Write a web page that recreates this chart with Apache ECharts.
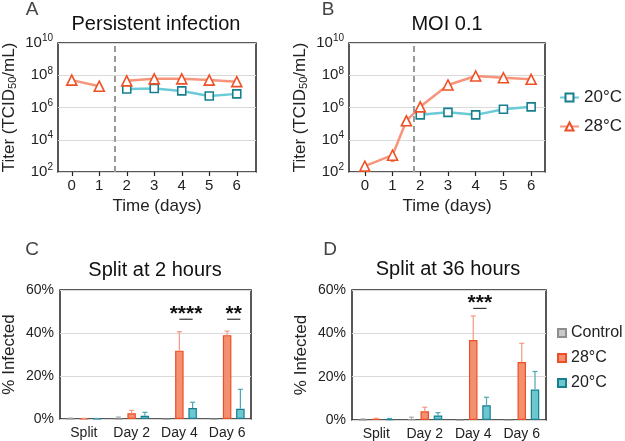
<!DOCTYPE html>
<html><head><meta charset="utf-8">
<script src="https://cdn.jsdelivr.net/npm/echarts@6/dist/echarts.min.js"></script>
<style>html,body{margin:0;padding:0;background:#fff}#c{width:625px;height:441px}</style>
</head><body><div id="c"></div>
<script>
// ---------- data ----------
const daysA = [0, 1, 2, 3, 4, 5, 6];
const persist28 = [5e7, 2.1e7, 4.5e7, 6e7, 6e7, 5e7, 4e7];
const persist20 = [null, null, 1.4e7, 1.5e7, 1.07e7, 5.2e6, 7e6];
const splitDayA = 1.55;

const daysB28 = [0, 1, 1.5, 2, 3, 4, 5, 6];
const moi28 = [2.3e2, 1.1e3, 1.5e5, 1.1e6, 2.5e7, 9e7, 7e7, 5.6e7];
const daysB20 = [2, 3, 4, 5, 6];
const moi20 = [3.5e5, 5e5, 3.5e5, 7.8e5, 1.1e6];
const moi28Err = [[1, 4.4e2, 1.1e3]];
const moi20Err = [[5, 4.6e5, 7.8e5], [6, 7.5e5, 1.1e6]];
const splitDayB = 1.76;

const barCats = ['Split', 'Day 2', 'Day 4', 'Day 6'];
const cCtrl = [0.15, 0.2, 0, 0],  cCtrlErr = [0.3, 0.7, 0, 0];
const c28 = [0.2, 2.7, 31.8, 39.0], c28Err = [0.1, 1.3, 8.8, 1.9];
const c20 = [0.15, 1.5, 5.1, 4.8],  c20Err = [0.1, 1.6, 2.7, 9.0];
const dCtrl = [0.2, 0.4, 0, 0],   dCtrlErr = [0.3, 0.9, 0, 0];
const d28 = [0.5, 4.0, 36.9, 26.8], d28Err = [0.3, 1.9, 11.1, 8.6];
const d20 = [0.4, 2.1, 6.8, 14.1],  d20Err = [0.3, 1.3, 3.7, 8.3];
const sigC = [[2, 46.4, '****'], [3, 46.4, '**']];
const sigD = [[2, 51.5, '***']];

// ---------- style ----------
const FONT = '"Liberation Sans", Arial, Helvetica, sans-serif';
const INK = '#222';
const OR_LINE = '#F6957B', OR_EDGE = '#EF4F24', OR_FILL = '#F3906F', OR_ERR = '#F39A80';
const TE_LINE = '#6ACBD6', TE_EDGE = '#177F8E', TE_FILL = '#6CC7D1', TE_ERR = '#4DA6B3';
const GR_FILL = '#C9C9C9', GR_EDGE = '#8E8E8E', GR_ERR = '#AAAAAA';
const BAR_W = 8.5, BAR_GAP = 0.56;
const STEP = BAR_W * (1 + BAR_GAP);

const chart = echarts.init(document.getElementById('c'), null, {renderer: 'canvas'});

function gridBox(left, top, width, height) {
  return {left, top, width, height, show: true, borderColor: '#222', borderWidth: 1.5, backgroundColor: 'transparent'};
}
const supRich = {
  b: {fontSize: 15, color: INK, fontFamily: FONT},
  s: {fontSize: 10, color: INK, fontFamily: FONT, padding: [0, 0, 9, 0]}
};
function logY(gridIndex) {
  return {
    type: 'log', gridIndex, logBase: 10, min: 1e2, max: 1e10, interval: 2,
    axisLine: {show: false}, axisTick: {show: false},
    splitLine: {show: true, lineStyle: {color: '#DADADA', width: 1}},
    axisLabel: {
      margin: 5, showMinLabel: true, showMaxLabel: true,
      formatter: v => '{b|10}{s|' + Math.round(Math.log10(v)) + '}',
      rich: supRich
    },
    name: '{a|Titer (TCID}{sub|50}{a|/mL)}', nameLocation: 'middle', nameGap: 40, nameRotate: 90,
    nameTextStyle: {rich: {
      a: {fontSize: 17, color: INK, fontFamily: FONT},
      sub: {fontSize: 11, color: INK, fontFamily: FONT, padding: [6, 0, 0, 0]}
    }}
  };
}
function timeX(gridIndex, min, max) {
  return {
    type: 'value', gridIndex, min, max,
    axisLine: {show: false},
    axisTick: {show: true, customValues: daysA, length: 4, lineStyle: {color: INK, width: 1.2}},
    axisLabel: {customValues: daysA, fontSize: 15, color: INK, fontFamily: FONT, margin: 6},
    splitLine: {show: false},
    name: 'Time (days)', nameLocation: 'middle', nameGap: 26,
    nameTextStyle: {fontSize: 17, color: INK, fontFamily: FONT}
  };
}
function catX(gridIndex) {
  return {
    type: 'category', gridIndex, data: barCats,
    axisLine: {show: false}, axisTick: {show: false},
    axisLabel: {fontSize: 14, color: INK, fontFamily: FONT, margin: 7},
    splitLine: {show: false}
  };
}
function pctY(gridIndex) {
  return {
    type: 'value', gridIndex, min: 0, max: 60, interval: 20,
    axisLine: {show: false}, axisTick: {show: false},
    splitLine: {show: true, lineStyle: {color: '#DADADA', width: 1}},
    axisLabel: {formatter: '{value}%', fontSize: 14, color: INK, fontFamily: FONT, margin: 6},
    name: '% Infected', nameLocation: 'middle', nameGap: 42, nameRotate: 90,
    nameTextStyle: {fontSize: 17, color: INK, fontFamily: FONT}
  };
}
function lineSeries(name, xs, ys, ax, isOrange, extra) {
  return Object.assign({
    type: 'line', name, xAxisIndex: ax, yAxisIndex: ax,
    data: xs.map((x, i) => [x, ys[i]]).filter(d => d[1] != null),
    symbol: isOrange ? 'triangle' : 'rect', symbolSize: isOrange ? 10 : 8,
    lineStyle: {color: isOrange ? OR_LINE : TE_LINE, width: 2.5},
    itemStyle: {color: '#fff', borderColor: isOrange ? OR_EDGE : TE_EDGE, borderWidth: 1.6},
    z: 4, animation: false
  }, extra || {});
}
function dashLine(x) {
  return {symbol: 'none', silent: true, label: {show: false},
    lineStyle: {color: '#9A9A9A', type: [6, 4], width: 2},
    data: [{xAxis: x}]};
}
function rangeErr(ax, arr, color) {
  return {
    type: 'custom', xAxisIndex: ax, yAxisIndex: ax, data: arr, z: 3, silent: true, animation: false,
    renderItem(params, api) {
      const p0 = api.coord([api.value(0), api.value(1)]);
      const p1 = api.coord([api.value(0), api.value(2)]);
      return {type: 'group', children: [
        {type: 'line', shape: {x1: p0[0], y1: p0[1], x2: p1[0], y2: p1[1]}, style: {stroke: color, lineWidth: 1.2}},
        {type: 'line', shape: {x1: p0[0] - 2, y1: p0[1], x2: p0[0] + 2, y2: p0[1]}, style: {stroke: color, lineWidth: 1.2}}
      ]};
    }
  };
}
function barSeries(name, ax, vals, fill, edge) {
  return {
    type: 'bar', name, xAxisIndex: ax, yAxisIndex: ax, data: vals,
    barWidth: BAR_W, barGap: (BAR_GAP * 100) + '%',
    itemStyle: {color: fill, borderColor: edge, borderWidth: 1.2},
    z: 2, animation: false
  };
}
function barErr(ax, vals, errs, offset, color) {
  return {
    type: 'custom', xAxisIndex: ax, yAxisIndex: ax, z: 3, silent: true, animation: false,
    data: vals.map((v, i) => [i, v, errs[i]]),
    renderItem(params, api) {
      const e = api.value(2);
      if (!e) return null;
      const p0 = api.coord([api.value(0), api.value(1)]);
      const p1 = api.coord([api.value(0), api.value(1) + e]);
      const x = p0[0] + offset;
      return {type: 'group', children: [
        {type: 'line', shape: {x1: x, y1: p0[1], x2: x, y2: p1[1]}, style: {stroke: color, lineWidth: 1.2}},
        {type: 'line', shape: {x1: x - 2.5, y1: p1[1], x2: x + 2.5, y2: p1[1]}, style: {stroke: color, lineWidth: 1.2}}
      ]};
    }
  };
}
function sigSeries(ax, arr) {
  return {
    type: 'custom', xAxisIndex: ax, yAxisIndex: ax, z: 5, silent: true, animation: false, data: arr,
    renderItem(params, api) {
      const p = api.coord([api.value(0), api.value(1)]);
      const x1 = p[0], x2 = p[0] + STEP, xm = (x1 + x2) / 2;
      return {type: 'group', children: [
        {type: 'line', shape: {x1: x1, y1: p[1], x2: x2, y2: p[1]}, style: {stroke: '#333', lineWidth: 1.2}},
        {type: 'text', x: xm, y: p[1] - 5, style: {text: arr[params.dataIndex][2], fontSize: 21, fontWeight: 'bold',
          fontFamily: FONT, fill: '#111', align: 'center', verticalAlign: 'middle'}}
      ]};
    }
  };
}
function txt(text, x, y, size, color) {
  return {type: 'text', x, y, silent: true,
    style: {text, fontSize: size, fontFamily: FONT, fill: color || '#111', align: 'center', verticalAlign: 'middle'}};
}
const legendNames = {Control: 'Control', bar28: '28°C', bar20: '20°C'};

const option = {
  backgroundColor: '#fff',
  animation: false,
  grid: [
    gridBox(57, 43, 199, 129),
    gridBox(349, 43, 196, 129),
    gridBox(58, 290, 193, 129),
    gridBox(352, 290, 194, 130)
  ],
  xAxis: [timeX(0, -0.5, 6.7), timeX(1, -0.57, 6.5), catX(2), catX(3)],
  yAxis: [logY(0), logY(1), pctY(2), pctY(3)],
  legend: [
    {data: ['20°C', '28°C'], orient: 'vertical', left: 554, top: 84, itemGap: 12,
     itemWidth: 19, itemHeight: 10, textStyle: {fontSize: 17, color: INK, fontFamily: FONT}, selectedMode: false},
    {data: ['Control', 'bar28', 'bar20'], orient: 'vertical', left: 552, top: 320, itemGap: 9,
     itemWidth: 8, itemHeight: 8, icon: 'rect', formatter: n => legendNames[n],
     textStyle: {fontSize: 16, color: INK, fontFamily: FONT}, selectedMode: false}
  ],
  graphic: [
    txt('A', 32, 10, 19, '#444'),
    txt('B', 328, 10, 19, '#444'),
    txt('C', 32, 250, 19, '#444'),
    txt('D', 330, 250, 19, '#444'),
    txt('Persistent infection', 156, 24, 20),
    txt('MOI 0.1', 447, 24, 20),
    txt('Split at 2 hours', 155, 270, 20),
    txt('Split at 36 hours', 448, 269, 20)
  ],
  series: [
    lineSeries('20°C', daysA, persist20, 0, false),
    lineSeries('28°C', daysA.slice(0, 2), persist28.slice(0, 2), 0, true, {markLine: dashLine(splitDayA)}),
    lineSeries('28°C', daysA.slice(2), persist28.slice(2), 0, true),
    rangeErr(1, moi28Err, OR_ERR),
    rangeErr(1, moi20Err, TE_ERR),
    lineSeries('20°C', daysB20, moi20, 1, false),
    lineSeries('28°C', daysB28, moi28, 1, true, {markLine: dashLine(splitDayB)}),

    barSeries('Control', 2, cCtrl, GR_FILL, GR_EDGE),
    barSeries('bar28', 2, c28, OR_FILL, OR_EDGE),
    barSeries('bar20', 2, c20, TE_FILL, TE_EDGE),
    barErr(2, cCtrl, cCtrlErr, -STEP, GR_ERR),
    barErr(2, c28, c28Err, 0, OR_ERR),
    barErr(2, c20, c20Err, STEP, TE_ERR),
    sigSeries(2, sigC),

    barSeries('Control', 3, dCtrl, GR_FILL, GR_EDGE),
    barSeries('bar28', 3, d28, OR_FILL, OR_EDGE),
    barSeries('bar20', 3, d20, TE_FILL, TE_EDGE),
    barErr(3, dCtrl, dCtrlErr, -STEP, GR_ERR),
    barErr(3, d28, d28Err, 0, OR_ERR),
    barErr(3, d20, d20Err, STEP, TE_ERR),
    sigSeries(3, sigD)
  ]
};
chart.setOption(option);
</script></body></html>
